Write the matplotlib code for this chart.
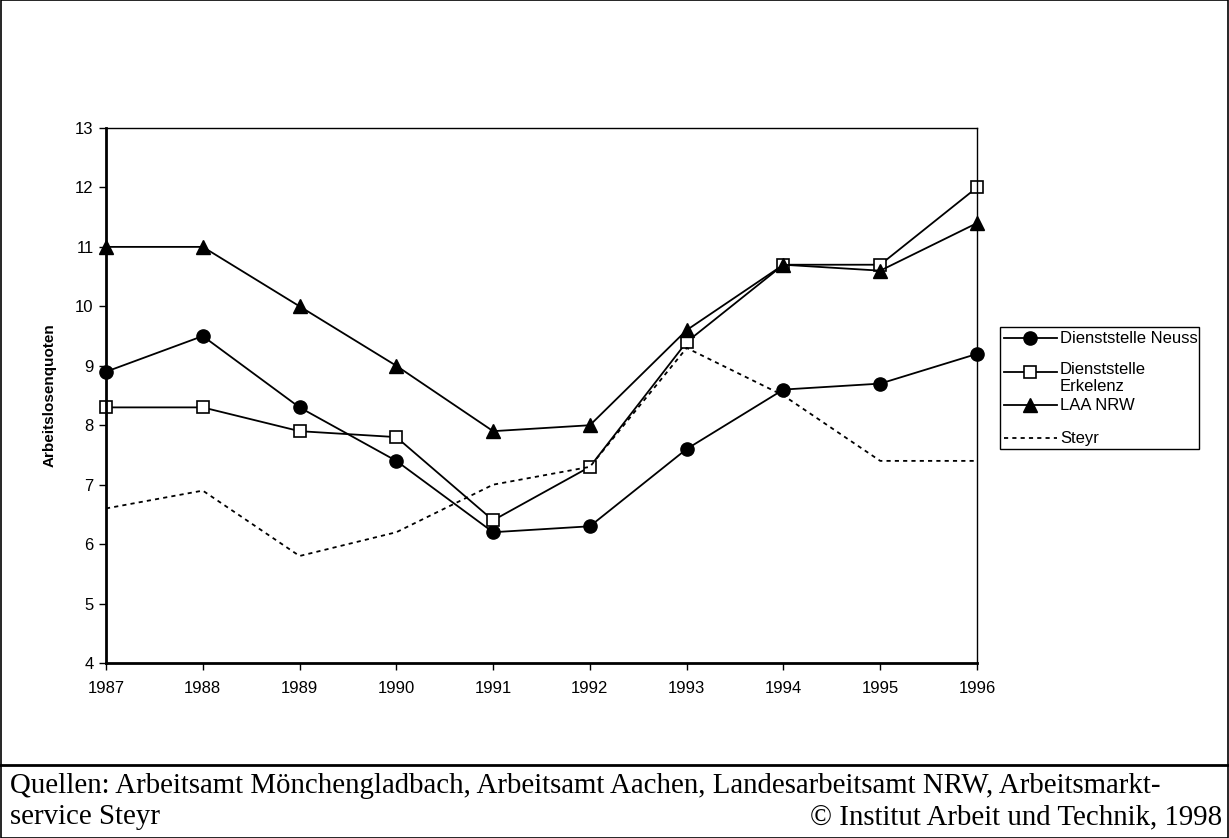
import matplotlib
matplotlib.use("Agg")
import matplotlib.pyplot as plt
from matplotlib.lines import Line2D
from matplotlib.patches import Rectangle

years = [1987, 1988, 1989, 1990, 1991, 1992, 1993, 1994, 1995, 1996]
neuss = [8.9, 9.5, 8.3, 7.4, 6.2, 6.3, 7.6, 8.6, 8.7, 9.2]
erkelenz = [8.3, 8.3, 7.9, 7.8, 6.4, 7.3, 9.4, 10.7, 10.7, 12.0]
laa_nrw = [11.0, 11.0, 10.0, 9.0, 7.9, 8.0, 9.6, 10.7, 10.6, 11.4]
steyr = [6.6, 6.9, 5.8, 6.2, 7.0, 7.3, 9.3, 8.5, 7.4, 7.4]
y_ticks = [4, 5, 6, 7, 8, 9, 10, 11, 12, 13]
ylabel = "Arbeitslosenquoten"
labels = ["Dienststelle Neuss", "Dienststelle\nErkelenz", "LAA NRW", "Steyr"]
source_line1 = "Quellen: Arbeitsamt Mönchengladbach, Arbeitsamt Aachen, Landesarbeitsamt NRW, Arbeitsmarkt-"
source_line2 = "service Steyr"
copyright_text = "© Institut Arbeit und Technik, 1998"

W, H = 1229, 838
fig = plt.figure(figsize=(W / 100, H / 100), dpi=100)
plt.rcParams['font.family'] = ['Liberation Sans', 'DejaVu Sans']

ax = fig.add_axes([106 / W, 1 - 663 / H, (977 - 106) / W, (663 - 128) / H])

styles = [
    dict(marker='o', ms=9.5, mfc='black', mec='black', ls='-'),
    dict(marker='s', ms=8, mfc='white', mec='black', mew=1.2, ls='-'),
    dict(marker='^', ms=9.5, mfc='black', mec='black', ls='-'),
    dict(marker=None, ls=(0, (2.3, 2.3))),
]
series = [neuss, erkelenz, laa_nrw, steyr]
for s, st in zip(series, styles):
    ax.plot(years, s, color='black', lw=1.3, clip_on=False, **st)

ax.set_xlim(years[0], years[-1])
ax.set_ylim(y_ticks[0], y_ticks[-1])
ax.set_xticks(years)
ax.set_yticks(y_ticks)
ax.tick_params(axis='both', direction='out', length=5, width=1, labelsize=12, colors='black')
ax.tick_params(axis='x', pad=8)
ax.tick_params(axis='y', pad=4)
for side in ['left', 'bottom']:
    ax.spines[side].set_linewidth(2)
for side in ['top', 'right']:
    ax.spines[side].set_linewidth(1)
ax.set_ylabel(ylabel, fontsize=11, fontweight='bold')
ax.yaxis.set_label_coords((57 - 106) / (977 - 106), 0.5)

# legend drawn manually (Excel-style overlap of the two-line label)
fig.patches.append(Rectangle((1000 / W, 1 - 449 / H), 199 / W, 122 / H,
                             transform=fig.transFigure, fill=False, ec='black', lw=1))
ys = [338, 372, 405, 438]
for y, st, lab in zip(ys, styles, labels):
    yf = 1 - y / H
    fig.lines.append(Line2D([1004 / W, 1057 / W], [yf, yf], transform=fig.transFigure,
                            color='black', lw=1.3, ls=st['ls']))
    if st['marker']:
        fig.lines.append(Line2D([1030 / W], [yf], transform=fig.transFigure, color='black',
                                marker=st['marker'], ms=st['ms'], mfc=st['mfc'], mec=st['mec'],
                                mew=st.get('mew', 1.0), ls='None'))
    if '\n' in lab:
        fig.text(1060 / W, 1 - (y - 10) / H, lab, fontsize=12, va='top', ha='left',
                 linespacing=1.2)
    else:
        fig.text(1060 / W, yf, lab, fontsize=12, va='center', ha='left')

# frame and separator
fig.patches.append(Rectangle((0.5 / W, 0), (W - 1.5) / W, 1 - 0.5 / H,
                             transform=fig.transFigure, fill=False, ec='black', lw=1.2))
fig.lines.append(Line2D([0, 1], [1 - 765 / H, 1 - 765 / H], transform=fig.transFigure,
                        color='black', lw=2))

serif = ['Liberation Serif', 'DejaVu Serif']
fig.text(10 / W, 1 - 786 / H, source_line1, fontsize=20.8, family=serif, va='center', ha='left')
fig.text(10 / W, 1 - 817 / H, source_line2, fontsize=20.8, family=serif, va='center', ha='left')
fig.text(1222 / W, 1 - 817 / H, copyright_text, fontsize=20.8, family=serif, va='center', ha='right')

fig.savefig("out.png", dpi=100)
